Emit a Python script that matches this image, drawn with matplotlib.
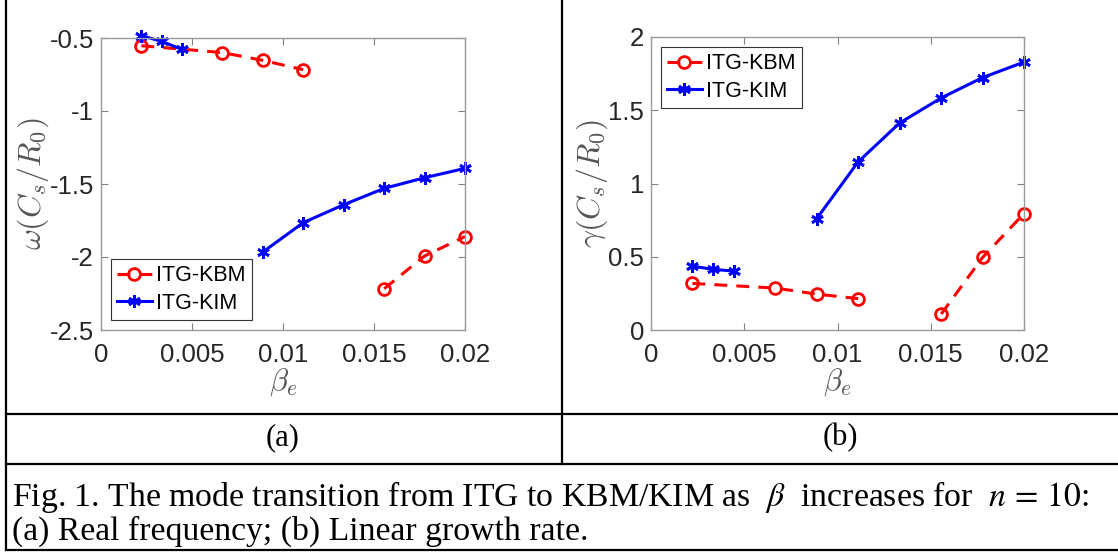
import matplotlib.pyplot as plt
from matplotlib.lines import Line2D

plt.rcParams['mathtext.fontset'] = 'cm'
plt.rcParams['font.family'] = ['Liberation Sans', 'DejaVu Sans']

# beta_e values and results
kbm_beta = [0.00222, 0.00667, 0.00889, 0.01111, 0.01556, 0.01778, 0.02]
kim_beta = [0.00222, 0.00333, 0.00444, 0.00889, 0.01111, 0.01333, 0.01556, 0.01778, 0.02]
kbm_split = 4  # first 4 points belong to the ITG branch
kim_split = 3

kbm_omega = [-0.553, -0.600, -0.653, -0.717, -2.217, -1.993, -1.860]
kim_omega = [-0.484, -0.523, -0.578, -1.966, -1.765, -1.642, -1.530, -1.457, -1.393]
kbm_gamma = [0.318, 0.286, 0.245, 0.214, 0.109, 0.495, 0.795]
kim_gamma = [0.436, 0.414, 0.402, 0.761, 1.148, 1.413, 1.584, 1.723, 1.829]

W, H = 1118, 553
fig = plt.figure(figsize=(W / 100, H / 100), dpi=100)

ax1 = fig.add_axes([101 / W, 1 - 330 / H, 364 / W, 292 / H])
ax2 = fig.add_axes([651 / W, 1 - 330 / H, 373 / W, 293 / H])

gray = '#262626'
kbm_style = dict(color='red', lw=2.2, ls=(0, (4.2, 3)), marker='o', ms=8.5,
                 mfc='none', mew=2, clip_on=False)
kim_style = dict(color='blue', lw=2.2, ls='-', marker=(6, 2, 0), ms=9, mew=2,
                 clip_on=False)


def draw(ax, ky, iy):
    ax.plot(kbm_beta[:kbm_split], ky[:kbm_split], label='ITG-KBM', **kbm_style)
    ax.plot(kim_beta[:kim_split], iy[:kim_split], label='ITG-KIM', **kim_style)
    ax.plot(kbm_beta[kbm_split:], ky[kbm_split:], **kbm_style)
    ax.plot(kim_beta[kim_split:], iy[kim_split:], **kim_style)
    ax.set_xlim(0, 0.02)
    ax.set_xticks([0, 0.005, 0.01, 0.015, 0.02], ['0', '0.005', '0.01', '0.015', '0.02'])
    ax.tick_params(direction='in', top=True, right=True, length=5, width=0.8,
                   color='#808080', labelcolor=gray, labelsize=18.5)
    ax.tick_params(axis='x', pad=9)
    ax.tick_params(axis='y', pad=5)
    for s in ax.spines.values():
        s.set_color('#9a9a9a')
        s.set_linewidth(1)
    ax.set_xlabel(r'$\beta_e$', fontsize=22, color='#555555', labelpad=0)


def legend(ax, loc):
    leg = ax.legend(loc=loc, fontsize=15.5, handlelength=1.6, handletextpad=0.2,
                    borderaxespad=0.45, fancybox=False, edgecolor='#333333',
                    framealpha=1, labelspacing=0.3, borderpad=0.3)
    leg.get_frame().set_linewidth(0.8)


draw(ax1, kbm_omega, kim_omega)
ax1.set_ylim(-2.5, -0.5)
ax1.set_yticks([-2.5, -2, -1.5, -1, -0.5], ['-2.5', '-2', '-1.5', '-1', '-0.5'])
ax1.set_ylabel(r'$\omega(C_s/R_0)$', fontsize=23, color='#555555', labelpad=-1)
legend(ax1, 'lower left')

draw(ax2, kbm_gamma, kim_gamma)
ax2.set_ylim(0, 2)
ax2.set_yticks([0, 0.5, 1, 1.5, 2], ['0', '0.5', '1', '1.5', '2'])
ax2.set_ylabel(r'$\gamma(C_s/R_0)$', fontsize=23, color='#555555', labelpad=-1)
legend(ax2, 'upper left')


# table borders around the panels
def hline(y, x0=5.5, x1=W):
    fig.add_artist(Line2D([x0 / W, x1 / W], [1 - y / H, 1 - y / H], color='black', lw=1.6))


def vline(x, y0, y1):
    fig.add_artist(Line2D([x / W, x / W], [1 - y0 / H, 1 - y1 / H], color='black', lw=1.6))


hline(414)
hline(464)
hline(550)
vline(5.5, 0, 550)
vline(562, 0, 464)

serif = ['Liberation Serif', 'DejaVu Serif']
fig.text(283 / W, 1 - 438 / H, '(a)', ha='center', va='center', fontsize=22, family=serif)
fig.text(840 / W, 1 - 438 / H, '(b)', ha='center', va='center', fontsize=22, family=serif)
fig.text(12 / W, 1 - 497 / H,
         r'Fig. 1. The mode transition from ITG to KBM/KIM as  $\beta$  increases for  $n\,=\,10$:',
         ha='left', va='center', fontsize=24.3, family=serif, math_fontfamily='stix')
fig.text(12 / W, 1 - 531 / H, '(a) Real frequency; (b) Linear growth rate.',
         ha='left', va='center', fontsize=24.3, family=serif)

fig.savefig('out.png', dpi=100)
